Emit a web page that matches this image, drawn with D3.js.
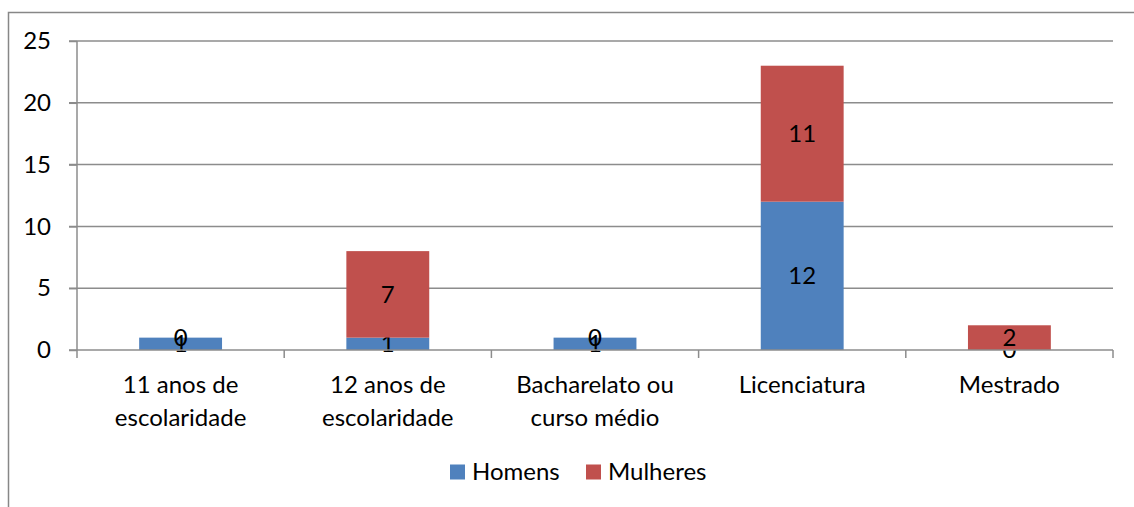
<!DOCTYPE html>
<html>
<head>
<meta charset="utf-8">
<script src="https://cdn.jsdelivr.net/npm/d3@7"></script>
<style>
  body { margin: 0; background: #fff; }
  text { font-family: Lato, "Noto Sans", sans-serif; fill: #000; }
</style>
</head>
<body>
<div id="chart"></div>
<script>
var categories = [["11 anos de", "escolaridade"], ["12 anos de", "escolaridade"], ["Bacharelato ou", "curso médio"], ["Licenciatura"], ["Mestrado"]];
var homens = [1, 1, 1, 12, 0];
var mulheres = [0, 7, 0, 11, 2];
var seriesNames = ["Homens", "Mulheres"];
var yTicks = [0, 5, 10, 15, 20, 25];

var svgWidth = 1134, svgHeight = 507;
var margin = { top: 41, right: 21, bottom: 157, left: 77 };
var width = svgWidth - margin.left - margin.right;
var height = svgHeight - margin.top - margin.bottom;
var colors = ["#4F81BD", "#C0504D"];
var fs = 24;

var svg = d3.select("#chart").append("svg")
  .attr("width", svgWidth)
  .attr("height", svgHeight);

// outer chart border (cropped on right / bottom)
svg.append("rect")
  .attr("x", 8.5).attr("y", 12.5)
  .attr("width", 1200).attr("height", 600)
  .attr("fill", "none").attr("stroke", "#878787").attr("stroke-width", 1.5);

var g = svg.append("g").attr("transform", `translate(${margin.left}, ${margin.top})`);

var rows = categories.map((c, i) => ({ idx: i, Homens: homens[i], Mulheres: mulheres[i] }));
var stacked = d3.stack().keys(seriesNames)(rows);

var x = d3.scaleBand().domain(d3.range(categories.length)).range([0, width]).paddingInner(0.6).paddingOuter(0.3);
var xOuter = d3.scaleBand().domain(d3.range(categories.length)).range([0, width]);
var y = d3.scaleLinear().domain([0, 25]).range([height, 0]);

// gridlines
g.append("g").selectAll("line").data(yTicks.filter(t => t > 0)).enter().append("line")
  .attr("x1", -8).attr("x2", width)
  .attr("y1", d => y(d)).attr("y2", d => y(d))
  .attr("stroke", "#8c8c8c").attr("stroke-width", 1.5);

// y axis
var yAxis = g.append("g").call(d3.axisLeft(y).tickValues(yTicks).tickSize(8).tickPadding(18));
yAxis.select(".domain").attr("stroke", "#8c8c8c").attr("stroke-width", 1.5).attr("d", `M0,0V${height}`);
yAxis.selectAll(".tick line").attr("stroke", "#8c8c8c").attr("stroke-width", 1.5);
yAxis.selectAll(".tick text").attr("font-size", fs).attr("font-family", "Lato, sans-serif").attr("fill", "#000");

// bars
var layer = g.selectAll(".layer").data(stacked).enter().append("g")
  .attr("fill", (d, i) => colors[i]);
layer.selectAll("rect").data(d => d).enter().append("rect")
  .attr("x", d => x(d.data.idx))
  .attr("width", x.bandwidth())
  .attr("y", d => y(d[1]))
  .attr("height", d => y(d[0]) - y(d[1]));

// x axis
var xAxisG = g.append("g").attr("transform", `translate(0, ${height})`);
xAxisG.append("line").attr("x1", -8).attr("x2", width).attr("stroke", "#8c8c8c").attr("stroke-width", 1.5);
xAxisG.selectAll(".tk").data(d3.range(categories.length + 1)).enter().append("line")
  .attr("x1", d => d * xOuter.step()).attr("x2", d => d * xOuter.step())
  .attr("y1", 0).attr("y2", 8)
  .attr("stroke", "#8c8c8c").attr("stroke-width", 1.5);

var catText = xAxisG.selectAll(".cat").data(categories).enter().append("text")
  .attr("text-anchor", "middle")
  .attr("font-size", fs)
  .attr("x", (d, i) => xOuter(i) + xOuter.bandwidth() / 2);
catText.selectAll("tspan").data(d => d).enter().append("tspan")
  .attr("x", function() { return d3.select(this.parentNode).attr("x"); })
  .attr("y", (d, i) => 43 + i * 33)
  .text(d => d);

// data labels
layer.selectAll(".lbl").data(d => d).enter().append("text")
  .attr("text-anchor", "middle")
  .attr("font-size", fs)
  .attr("dy", "0.35em")
  .attr("x", d => x(d.data.idx) + x.bandwidth() / 2)
  .attr("y", d => y((d[0] + d[1]) / 2))
  .text(d => d[1] - d[0]);

// legend
var legend = svg.append("g").attr("transform", "translate(450, 472)");
var legendX = [0, 136];
seriesNames.forEach(function(name, i) {
  legend.append("rect").attr("x", legendX[i]).attr("y", -7.5).attr("width", 15).attr("height", 15).attr("fill", colors[i]);
  legend.append("text").attr("x", legendX[i] + 22).attr("y", 0).attr("dy", "0.35em")
    .attr("font-size", fs).text(name);
});
</script>
</body>
</html>
